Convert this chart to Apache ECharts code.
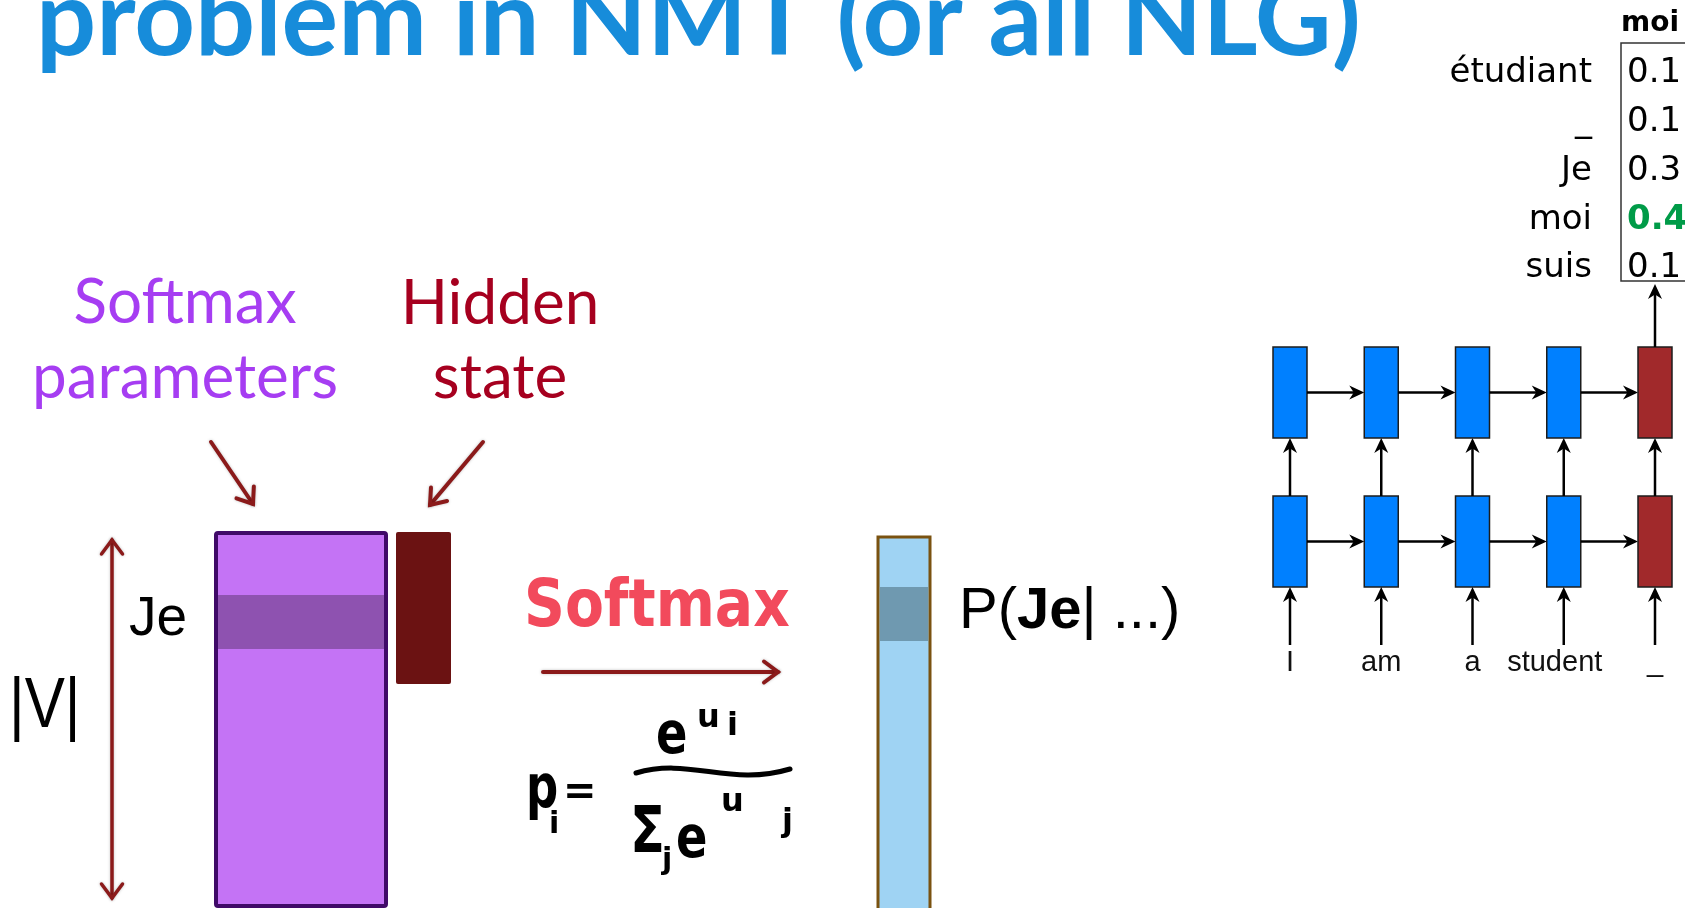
<!DOCTYPE html>
<html>
<head>
<meta charset="utf-8">
<script src="https://cdn.jsdelivr.net/npm/echarts@6/dist/echarts.min.js"></script>
<style>
html, body { margin: 0; padding: 0; background: #fff; }
#main { width: 1685px; height: 908px; }
</style>
</head>
<body>
<div id="main"></div>
<script>
// distribution over the vocabulary at the decoder step (right-hand table)
var vocabWords = ['étudiant', '_', 'Je', 'moi', 'suis'];
var vocabProbs = [0.1, 0.1, 0.3, 0.4, 0.1];
// source sentence fed into the stacked RNN
var inputWords = ['I', 'am', 'a', 'student', '_'];
var rnnLayers = ['layer 1', 'layer 2'];
var encoderSteps = 4; // steps after this one are decoder (red) cells

var chart = echarts.init(document.getElementById('main'));

// index of most probable word -> header + green highlight
var best = 0;
vocabProbs.forEach(function (p, i) { if (p > vocabProbs[best]) best = i; });

var rnnCells = [];
inputWords.forEach(function (w, i) {
    rnnLayers.forEach(function (l, j) { rnnCells.push([i, j]); });
});
var tableRows = vocabProbs.map(function (p, i) { return [0, i, p]; });

// small helpers for the slide drawing
function head(x, y, dx, dy, len, half, color) {
    // filled "stealth" arrow head with tip at (x, y), pointing along (dx, dy)
    var n = Math.sqrt(dx * dx + dy * dy); dx /= n; dy /= n;
    var px = -dy, py = dx;
    return {
        type: 'polygon',
        shape: { points: [
            [x, y],
            [x - dx * len + px * half, y - dy * len + py * half],
            [x - dx * len * 0.7, y - dy * len * 0.7],
            [x - dx * len - px * half, y - dy * len - py * half]
        ] },
        style: { fill: color }
    };
}
function chevron(x, y, dx, dy, len, color, w) {
    var n = Math.sqrt(dx * dx + dy * dy); dx /= n; dy /= n;
    var px = -dy, py = dx;
    return {
        type: 'polyline',
        shape: { points: [
            [x - dx * len + px * len * 0.75, y - dy * len + py * len * 0.75],
            [x, y],
            [x - dx * len - px * len * 0.75, y - dy * len - py * len * 0.75]
        ] },
        style: { stroke: color, lineWidth: w, fill: null, lineJoin: 'miter', lineCap: 'round',
                 shadowBlur: 3, shadowColor: 'rgba(0,0,0,0.25)' }
    };
}
function redArrow(x1, y1, x2, y2, w, both) {
    var c = '#8b1a1a';
    var els = [{
        type: 'line', shape: { x1: x1, y1: y1, x2: x2, y2: y2 },
        style: { stroke: c, lineWidth: w, lineCap: 'round', shadowBlur: 3, shadowColor: 'rgba(0,0,0,0.25)' }
    }, chevron(x2, y2, x2 - x1, y2 - y1, 14, c, w)];
    if (both) els.push(chevron(x1, y1, x1 - x2, y1 - y2, 14, c, w));
    return { type: 'group', children: els };
}
// text placed by its baseline (k = em-middle offset of the font)
function label(x, base, str, size, family, color, extra) {
    var k = (family === 'Lato' || family === 'Open Sans') ? 0.39 : 0.35;
    var st = {
        text: str, x: 0, y: 0, fontSize: size, fontFamily: family,
        fill: color, align: 'left', verticalAlign: 'middle'
    };
    var el = { type: 'text', x: x, y: base - size * k, style: st };
    for (var key in (extra || {})) {
        if (key === 'scaleX' || key === 'scaleY') el[key] = extra[key];
        else st[key] = extra[key];
    }
    return el;
}

function renderRnn(params, api) {
    var step = api.value(0), layer = api.value(1);
    var c = api.coord([step, layer]);
    var w = 34, h = 91, lw = 2.5, k = '#000';
    var top = c[1] - h / 2, bottom = c[1] + h / 2;
    var ch = [];
    ch.push({
        type: 'rect', shape: { x: c[0] - w / 2, y: top, width: w, height: h },
        style: { fill: step < encoderSteps ? '#0080ff' : '#a1292b', stroke: '#1c1c1c', lineWidth: 1.5 }
    });
    if (step < inputWords.length - 1) {
        var xe = api.coord([step + 1, layer])[0] - w / 2;
        ch.push({ type: 'line', shape: { x1: c[0] + w / 2, y1: c[1], x2: xe - 8, y2: c[1] }, style: { stroke: k, lineWidth: lw } });
        ch.push(head(xe, c[1], 1, 0, 15, 7, k));
    }
    if (layer === 0) {
        var ye = api.coord([step, 1])[1] + h / 2;
        ch.push({ type: 'line', shape: { x1: c[0], y1: top, x2: c[0], y2: ye + 8 }, style: { stroke: k, lineWidth: lw } });
        ch.push(head(c[0], ye, 0, -1, 15, 7, k));
        ch.push({ type: 'line', shape: { x1: c[0], y1: bottom + 58, x2: c[0], y2: bottom + 8 }, style: { stroke: k, lineWidth: lw } });
        ch.push(head(c[0], bottom, 0, -1, 15, 7, k));
        ch.push({
            type: 'text',
            style: { text: inputWords[step], x: c[0] - (step === 3 ? 9 : 0), y: bottom + 76, fontSize: 29,
                     fontFamily: 'Liberation Sans', fill: '#111', align: 'center', verticalAlign: 'middle' }
        });
    } else if (step === inputWords.length - 1) {
        ch.push({ type: 'line', shape: { x1: c[0], y1: top, x2: c[0], y2: 292 }, style: { stroke: k, lineWidth: lw } });
        ch.push(head(c[0], 284, 0, -1, 15, 7, k));
    }
    return { type: 'group', children: ch };
}

function renderProb(params, api) {
    var i = api.value(1), p = api.value(2);
    var c = api.coord([0, i]);
    var isBest = i === best;
    return {
        type: 'text',
        style: {
            text: p.toFixed(1), x: c[0] - 23, y: c[1], align: 'left', verticalAlign: 'middle',
            fontFamily: 'DejaVu Sans', fontSize: 34, fontWeight: isBest ? 'bold' : 'normal',
            fill: isBest ? '#009b48' : '#000'
        }
    };
}

var purple = '#a63df2', crimson = '#a6001f';
var hw = { fontWeight: 'bold' };

var graphics = [
    // slide title (cut off at the top)
    label(36, 62, 'problem in NMT (or all NLG)', 106, 'Lato', '#178cda', { fontWeight: 'bold' }),

    label(185, 327, 'Softmax', 62, 'Lato', purple, { align: 'center' }),
    label(185, 402, 'parameters', 62, 'Lato', purple, { align: 'center' }),
    label(500, 328, 'Hidden', 62, 'Lato', crimson, { align: 'center' }),
    label(500, 402, 'state', 62, 'Lato', crimson, { align: 'center' }),
    redArrow(211, 442, 253, 504, 4),
    redArrow(483, 442, 430, 505, 4),

    // |V| double arrow
    redArrow(112, 540, 112, 898, 3.5, true),
    label(9, 732, '|V|', 70, 'Liberation Sans', '#000', { scaleX: 0.86 }),
    label(129, 639, 'Je', 55, 'Liberation Sans', '#000'),

    // softmax weight matrix with the "Je" row
    { type: 'rect', shape: { x: 216, y: 533, width: 170, height: 373, r: 2 },
      style: { fill: '#c473f5', stroke: '#400a68', lineWidth: 4 } },
    { type: 'rect', shape: { x: 218, y: 595, width: 166, height: 54 }, style: { fill: '#8e52b0' } },
    // hidden state
    { type: 'rect', shape: { x: 396, y: 532, width: 55, height: 152, r: 2 }, style: { fill: '#6b1212' } },

    // handwritten softmax
    label(524, 632, 'Softmax', 66, 'DejaVu Sans', '#f24a5c', { fontWeight: 'bold', scaleX: 0.86 }),
    redArrow(543, 672, 778, 672, 4),
    label(526, 812, 'p', 60, 'DejaVu Sans', '#000', { fontWeight: 'bold', scaleX: 0.75 }),
    label(549, 836, 'i', 30, 'DejaVu Sans', '#000', hw),
    label(563, 808, '=', 40, 'DejaVu Sans', '#000', hw),
    label(656, 758, 'e', 58, 'DejaVu Sans', '#000', { fontWeight: 'bold', scaleX: 0.8 }),
    label(697, 730, 'u', 32, 'DejaVu Sans', '#000', hw),
    label(727, 738, 'i', 32, 'DejaVu Sans', '#000', hw),
    { type: 'bezierCurve', shape: { x1: 636, y1: 773, cpx1: 690, cpy1: 757, cpx2: 730, cpy2: 787, x2: 790, y2: 769 },
      style: { stroke: '#000', lineWidth: 5, fill: null, lineCap: 'round' } },
    label(630, 858, 'Σ', 64, 'DejaVu Sans', '#000', { fontWeight: 'bold', scaleX: 0.8 }),
    label(662, 872, 'j', 30, 'DejaVu Sans', '#000', hw),
    label(676, 862, 'e', 58, 'DejaVu Sans', '#000', { fontWeight: 'bold', scaleX: 0.8 }),
    label(721, 814, 'u', 32, 'DejaVu Sans', '#000', hw),
    label(782, 834, 'j', 32, 'DejaVu Sans', '#000', hw),

    // output distribution column
    { type: 'rect', shape: { x: 878, y: 537, width: 52, height: 380 },
      style: { fill: '#9fd3f3', stroke: '#7a5210', lineWidth: 3 } },
    { type: 'rect', shape: { x: 880, y: 587, width: 48, height: 54 }, style: { fill: '#6f99b0' } },
    {
        type: 'text',
        style: {
            text: '{n|P(}{b|Je}{n|| ...)}', x: 959, y: 632 - 58 * 0.35, verticalAlign: 'middle',
            rich: {
                n: { fontSize: 58, fontFamily: 'Liberation Sans', fill: '#000' },
                b: { fontSize: 58, fontFamily: 'Liberation Sans', fontWeight: 'bold', fill: '#000' }
            }
        }
    },

    // frame of the probability table
    { type: 'rect', shape: { x: 1621, y: 43, width: 80, height: 238 },
      style: { fill: null, stroke: '#333', lineWidth: 1.5 } }
];

var option = {
    animation: false,
    backgroundColor: '#fff',
    grid: [
        { left: 1290, top: 392.5, width: 365, height: 149, show: false },
        { left: 1621, top: 49, width: 58, height: 244, show: false }
    ],
    xAxis: [
        { gridIndex: 0, type: 'category', data: inputWords, boundaryGap: false, show: false },
        { gridIndex: 1, type: 'category', data: [vocabWords[best]], position: 'top',
          axisLine: { show: false }, axisTick: { show: false },
          axisLabel: { fontFamily: 'DejaVu Sans', fontWeight: 'bold', fontSize: 28, color: '#000', margin: 11 } }
    ],
    yAxis: [
        { gridIndex: 0, type: 'category', data: rnnLayers, boundaryGap: false, show: false },
        { gridIndex: 1, type: 'category', data: vocabWords, inverse: true,
          axisLine: { show: false }, axisTick: { show: false }, splitLine: { show: false },
          axisLabel: { fontFamily: 'DejaVu Sans', fontSize: 34, color: '#000', margin: 29 } }
    ],
    graphic: graphics,
    series: [
        { type: 'custom', xAxisIndex: 0, yAxisIndex: 0, data: rnnCells, renderItem: renderRnn, silent: true },
        { type: 'custom', xAxisIndex: 1, yAxisIndex: 1, data: tableRows, renderItem: renderProb, silent: true }
    ]
};
chart.setOption(option);
</script>
</body>
</html>
